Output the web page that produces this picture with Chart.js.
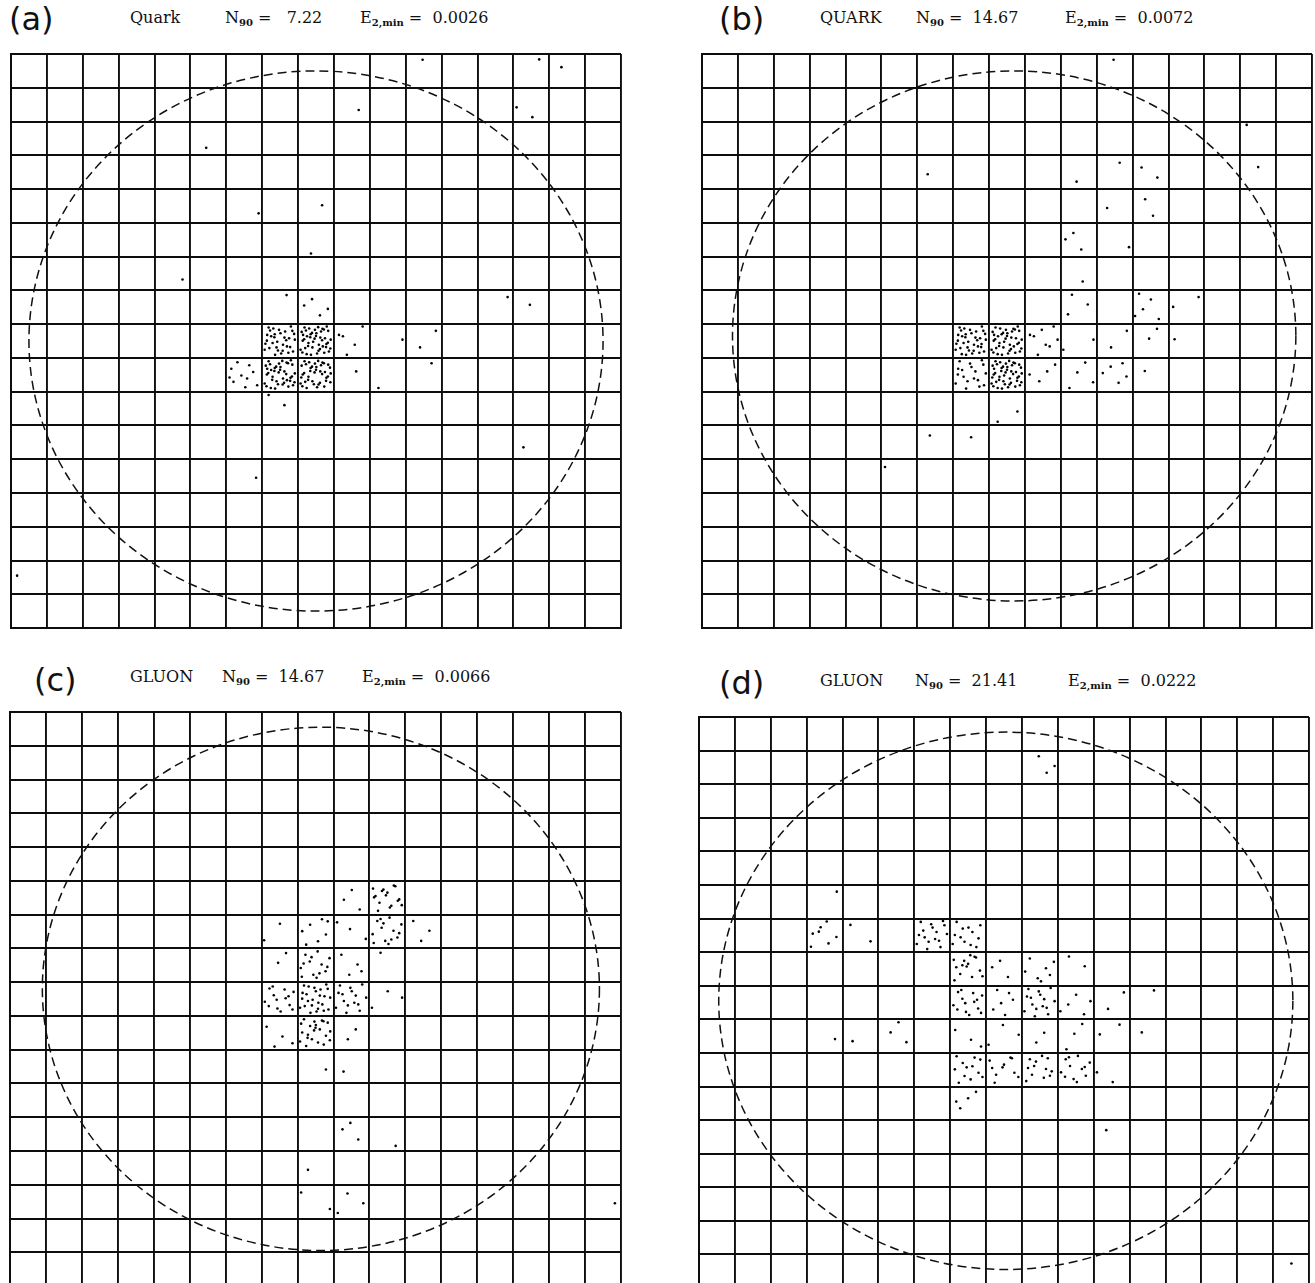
<!DOCTYPE html>
<html>
<head>
<meta charset="utf-8">
<script src="https://cdn.jsdelivr.net/npm/chart.js@4/dist/chart.umd.min.js"></script>
<style>
  body { margin: 0; width: 1315px; height: 1283px; overflow: hidden; background: #fff; position: relative; }
  .tag { position: absolute; font: 32px "DejaVu Sans", sans-serif; line-height: 1; color: #111; }
  .lbl { position: absolute; font: 16px "DejaVu Serif", serif; line-height: 1; color: #111; white-space: pre; }
  .lbl sub { font-size: 10px; font-weight: bold; vertical-align: -3px; line-height: 0; }
  canvas { position: absolute; }
</style>
</head>
<body>
<script>
// panel headers
const panelTags = ['(a)', '(b)', '(c)', '(d)'];
const jetTypes = ['Quark', 'QUARK', 'GLUON', 'GLUON'];
const n90Values = [' 7.22', '14.67', '14.67', '21.41'];
const e2minValues = ['0.0026', '0.0072', '0.0066', '0.0222'];

const gridCols = 17;
const gridRows = 17;

// cells as [column, row, number of dots], row 0 at the top
const cellsA = [
  [11, 0, 1], [14, 0, 1], [15, 0, 1], [9, 1, 1], [14, 1, 2], [5, 2, 1],
  [6, 4, 1], [8, 4, 1], [8, 5, 1], [4, 6, 1], [13, 7, 1], [14, 7, 1],
  [7, 7, 1], [8, 7, 4],
  [7, 8, 33], [8, 8, 45], [9, 8, 5], [10, 8, 1], [11, 8, 2],
  [6, 9, 10], [7, 9, 40], [8, 9, 40], [9, 9, 1], [10, 9, 1], [11, 9, 1],
  [7, 10, 2], [14, 11, 1], [6, 12, 1], [0, 15, 1]
];
const cellsB = [
  [11, 0, 1], [15, 2, 1], [6, 3, 1], [10, 3, 1], [11, 3, 1], [12, 3, 2], [15, 3, 1],
  [11, 4, 1], [12, 4, 2], [10, 5, 3], [11, 5, 1], [10, 6, 1],
  [10, 7, 3], [12, 7, 5], [13, 7, 2],
  [7, 8, 35], [8, 8, 40], [9, 8, 8], [10, 8, 2], [11, 8, 2], [12, 8, 2], [13, 8, 1],
  [7, 9, 18], [8, 9, 45], [9, 9, 4], [10, 9, 4], [11, 9, 5], [12, 9, 1],
  [8, 10, 2], [6, 11, 1], [7, 11, 1], [5, 12, 1]
];
const cellsC = [
  [9, 5, 3], [10, 5, 16],
  [7, 6, 2], [8, 6, 7], [9, 6, 3], [10, 6, 14], [11, 6, 3],
  [7, 7, 2], [8, 7, 14], [9, 7, 4], [10, 7, 1],
  [7, 8, 14], [8, 8, 25], [9, 8, 15], [10, 8, 3],
  [7, 9, 4], [8, 9, 22], [9, 9, 2],
  [8, 10, 1], [9, 10, 1],
  [9, 12, 3], [10, 12, 1], [8, 13, 1], [8, 14, 2], [9, 14, 3], [16, 14, 1]
];
const cellsD = [
  [9, 1, 3], [3, 5, 1],
  [3, 6, 7], [4, 6, 2], [6, 6, 16], [7, 6, 12],
  [7, 7, 14], [8, 7, 3], [9, 7, 7], [10, 7, 2],
  [7, 8, 14], [8, 8, 6], [9, 8, 15], [10, 8, 5], [11, 8, 2], [12, 8, 1],
  [3, 9, 1], [4, 9, 1], [5, 9, 3], [7, 9, 3], [8, 9, 3], [9, 9, 2], [10, 9, 3], [11, 9, 2], [12, 9, 1],
  [7, 10, 12], [8, 10, 10], [9, 10, 12], [10, 10, 12], [11, 10, 2],
  [7, 11, 4], [11, 12, 1], [16, 16, 1]
];

// cone outline, in cell units
const circleCenters = [[8.5, 8.5], [8.7, 8.35], [8.65, 8.2], [8.55, 8.45]];
const circleRadii = [8, 7.85, 7.75, 8];

// where dots sit inside a cell (fractions of the cell)
const stipple = [
  [0.50, 0.35], [0.28, 0.65], [0.72, 0.16], [0.17, 0.45], [0.61, 0.74], [0.39, 0.26],
  [0.83, 0.55], [0.12, 0.84], [0.56, 0.09], [0.34, 0.39], [0.78, 0.68], [0.22, 0.19],
  [0.67, 0.48], [0.44, 0.78], [0.89, 0.29], [0.09, 0.58], [0.53, 0.87], [0.31, 0.13],
  [0.75, 0.42], [0.20, 0.71], [0.64, 0.22], [0.42, 0.52], [0.86, 0.81], [0.14, 0.32],
  [0.58, 0.61], [0.36, 0.91], [0.80, 0.07], [0.25, 0.36], [0.69, 0.66], [0.47, 0.17],
  [0.91, 0.46], [0.07, 0.76], [0.51, 0.27], [0.29, 0.56], [0.73, 0.85], [0.18, 0.10],
  [0.62, 0.40], [0.40, 0.69], [0.84, 0.20], [0.13, 0.49], [0.57, 0.79], [0.35, 0.30],
  [0.79, 0.59], [0.24, 0.89], [0.68, 0.14], [0.46, 0.43], [0.90, 0.72], [0.10, 0.23]
];

const panels = [
  { cells: cellsA, left: 10, top: 53, width: 612, height: 576, tag: [9, 3], text: [130, 225, 360], textTop: 10 },
  { cells: cellsB, left: 701, top: 53, width: 612, height: 576, tag: [719, 3], text: [820, 916, 1065], textTop: 10 },
  { cells: cellsC, left: 9, top: 711, width: 613, height: 576, tag: [34, 664], text: [130, 222, 362], textTop: 669 },
  { cells: cellsD, left: 698, top: 716, width: 612, height: 573, tag: [719, 667], text: [820, 915, 1068], textTop: 673 }
];

function cellDots(cells) {
  const pts = [];
  cells.forEach(([col, row, n]) => {
    const start = (col * 7 + row * 13) % stipple.length;
    for (let i = 0; i < n; i++) {
      const [dx, dy] = stipple[(start + i) % stipple.length];
      pts.push({ x: col + dx, y: row + dy });
    }
  });
  return pts;
}

const dashedCircle = {
  id: 'dashedCircle',
  afterDatasetsDraw(chart, args, opts) {
    const { ctx, scales: { x, y } } = chart;
    const [cx, cy] = opts.center;
    const px = x.getPixelForValue(cx);
    const py = y.getPixelForValue(cy);
    const rx = Math.abs(x.getPixelForValue(cx + opts.radius) - px);
    const ry = Math.abs(y.getPixelForValue(cy + opts.radius) - py);
    ctx.save();
    ctx.beginPath();
    ctx.ellipse(px, py, rx, ry, 0, 0, Math.PI * 2);
    ctx.setLineDash([9, 5]);
    ctx.lineWidth = 1.5;
    ctx.strokeStyle = '#111';
    ctx.stroke();
    ctx.restore();
  }
};

function addText(cls, x, y, html) {
  const el = document.createElement('div');
  el.className = cls;
  el.style.left = x + 'px';
  el.style.top = y + 'px';
  el.innerHTML = html;
  document.body.appendChild(el);
}

const pad = 3;
panels.forEach((p, i) => {
  addText('tag', p.tag[0], p.tag[1], panelTags[i]);
  addText('lbl', p.text[0], p.textTop, jetTypes[i]);
  addText('lbl', p.text[1], p.textTop, 'N<sub>90</sub> =  ' + n90Values[i]);
  addText('lbl', p.text[2], p.textTop, 'E<sub>2,min</sub> =  ' + e2minValues[i]);

  const canvas = document.createElement('canvas');
  canvas.width = p.width + 2 * pad;
  canvas.height = p.height + 2 * pad;
  canvas.style.left = (p.left - pad) + 'px';
  canvas.style.top = (p.top - pad) + 'px';
  document.body.appendChild(canvas);

  const axis = (max, reverse) => ({
    type: 'linear',
    min: 0,
    max: max,
    reverse: reverse,
    ticks: { display: false, stepSize: 1, maxTicksLimit: 100, autoSkip: false },
    grid: { color: '#0d0d0d', lineWidth: 1.9, drawTicks: false },
    border: { color: '#0d0d0d', width: 2 }
  });

  new Chart(canvas, {
    type: 'scatter',
    data: {
      datasets: [{
        data: cellDots(p.cells),
        pointRadius: 1.3,
        pointBackgroundColor: '#000',
        pointBorderWidth: 0
      }]
    },
    options: {
      responsive: false,
      animation: false,
      layout: { padding: pad },
      scales: { x: axis(gridCols, false), y: axis(gridRows, true) },
      plugins: {
        legend: { display: false },
        tooltip: { enabled: false },
        dashedCircle: { center: circleCenters[i], radius: circleRadii[i] }
      }
    },
    plugins: [dashedCircle]
  });
});
</script>
</body>
</html>
